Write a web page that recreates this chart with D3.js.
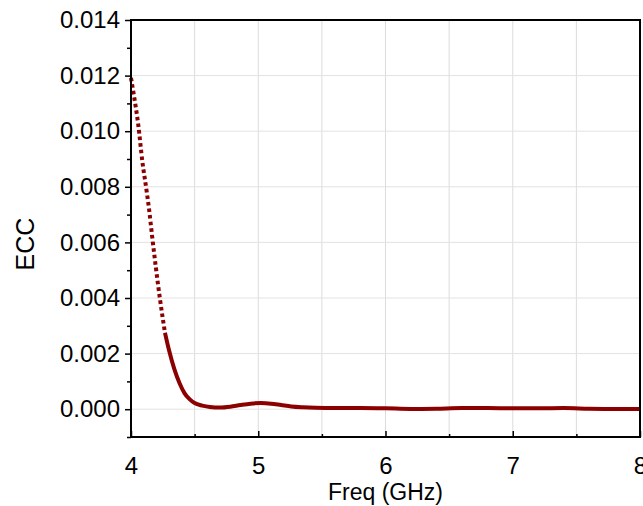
<!DOCTYPE html>
<html>
<head>
<meta charset="utf-8">
<script src="https://cdn.jsdelivr.net/npm/d3@7"></script>
<style>
    body { margin: 0; background: #fff; }
    text { font-family: "Liberation Sans", Arial, sans-serif; fill: #000; }
</style>
</head>
<body>
<div id="chart"></div>
<script>
// frequency in GHz, ECC
var freq = [4.0, 4.02, 4.057, 4.089, 4.123, 4.144, 4.163, 4.194, 4.228, 4.267,
    4.30, 4.34, 4.38, 4.42, 4.46, 4.50, 4.56, 4.62, 4.70, 4.78, 4.86, 4.94,
    5.02, 5.10, 5.18, 5.26, 5.35, 5.45, 5.6, 5.8, 6.0, 6.2, 6.4, 6.6, 6.8,
    7.0, 7.2, 7.4, 7.6, 7.8, 8.0];
var ecc = [0.01192, 0.01137, 0.01023, 0.00892, 0.00784, 0.00712, 0.00634, 0.00515, 0.00395, 0.00275,
    0.00210, 0.00145, 0.00095, 0.00058, 0.00036, 0.00022, 0.00013, 0.00008, 0.00006, 0.00009, 0.00015, 0.00020,
    0.00022, 0.00020, 0.00015, 0.00010, 0.00007, 0.00005, 0.00004, 0.00004, 0.00003, 0.00001, 0.00002, 0.00004, 0.00004,
    0.00003, 0.00003, 0.00004, 0.00002, 0.00001, 0.00001];
// markers are spread apart (dotted look) up to this point
var dottedUntil = 4.267;

var xTicks = [4, 5, 6, 7, 8];
var xMinor = [4.5, 5.5, 6.5, 7.5];
var yTicks = [0, 0.002, 0.004, 0.006, 0.008, 0.010, 0.012, 0.014];
var yMinor = [-0.001, 0.001, 0.003, 0.005, 0.007, 0.009, 0.011, 0.013];

var margin = { left: 131, top: 20, right: 3, bottom: 69 };
var W = 643, H = 506;
var w = W - margin.left - margin.right;
var h = H - margin.top - margin.bottom;

var svg = d3.select('#chart')
    .append('svg')
    .attr('width', W)
    .attr('height', H);

var g = svg.append('g')
    .attr('transform', 'translate(' + margin.left + ',' + margin.top + ')');

var x = d3.scaleLinear().domain([4, 8]).range([0, w]);
var y = d3.scaleLinear().domain([-0.001, 0.014]).range([h, 0]);

// grid
g.append('g')
    .selectAll('line')
    .data(xTicks.concat(xMinor))
    .enter()
    .append('line')
    .attr('x1', function(d) { return x(d); })
    .attr('x2', function(d) { return x(d); })
    .attr('y1', 0)
    .attr('y2', h)
    .attr('stroke', '#dcdcdc')
    .attr('stroke-width', 1);

g.append('g')
    .selectAll('line')
    .data(yTicks)
    .enter()
    .append('line')
    .attr('x1', 0)
    .attr('x2', w)
    .attr('y1', function(d) { return y(d); })
    .attr('y2', function(d) { return y(d); })
    .attr('stroke', '#e2e2e2')
    .attr('stroke-width', 1);

// curve
var pts = freq.map(function(f, i) { return [f, ecc[i]]; });
var line = d3.line()
    .x(function(d) { return x(d[0]); })
    .y(function(d) { return y(d[1]); })
    .curve(d3.curveMonotoneX);

g.append('path')
    .datum(pts.filter(function(d) { return d[0] <= dottedUntil; }))
    .attr('d', line)
    .attr('fill', 'none')
    .attr('stroke', '#8b0000')
    .attr('stroke-width', 4)
    .attr('stroke-dasharray', '3.6,3');

g.append('path')
    .datum(pts.filter(function(d) { return d[0] >= dottedUntil; }))
    .attr('d', line)
    .attr('fill', 'none')
    .attr('stroke', '#8b0000')
    .attr('stroke-width', 4)
    .attr('stroke-linejoin', 'round');

// axes
var xAxis = d3.axisBottom(x)
    .tickValues(xTicks)
    .tickFormat(d3.format('d'))
    .tickSize(-6)
    .tickPadding(20);

var gx = g.append('g')
    .attr('transform', 'translate(0,' + h + ')')
    .call(xAxis);
gx.select('.domain').remove();
gx.selectAll('text').style('font-size', '24px');

g.append('g')
    .attr('transform', 'translate(0,' + h + ')')
    .call(d3.axisBottom(x).tickValues(xMinor).tickSize(-3).tickFormat(''))
    .select('.domain').remove();

var yAxis = d3.axisLeft(y)
    .tickValues(yTicks)
    .tickFormat(d3.format('.3f'))
    .tickSize(6)
    .tickPadding(5);

var gy = g.append('g').call(yAxis);
gy.select('.domain').remove();
gy.selectAll('text').style('font-size', '24px');

g.append('g')
    .call(d3.axisLeft(y).tickValues(yMinor).tickSize(4).tickFormat(''))
    .select('.domain').remove();

g.selectAll('.tick line').attr('stroke', '#000').attr('stroke-width', 1.5);

// frame
g.append('rect')
    .attr('x', 0)
    .attr('y', 0)
    .attr('width', w)
    .attr('height', h)
    .attr('fill', 'none')
    .attr('stroke', '#000')
    .attr('stroke-width', 2);

// titles
svg.append('text')
    .attr('x', margin.left + w / 2)
    .attr('y', 500)
    .attr('text-anchor', 'middle')
    .style('font-size', '23px')
    .text('Freq (GHz)');

svg.append('text')
    .attr('transform', 'translate(34,244) rotate(-90)')
    .attr('text-anchor', 'middle')
    .style('font-size', '25px')
    .text('ECC');
</script>
</body>
</html>
